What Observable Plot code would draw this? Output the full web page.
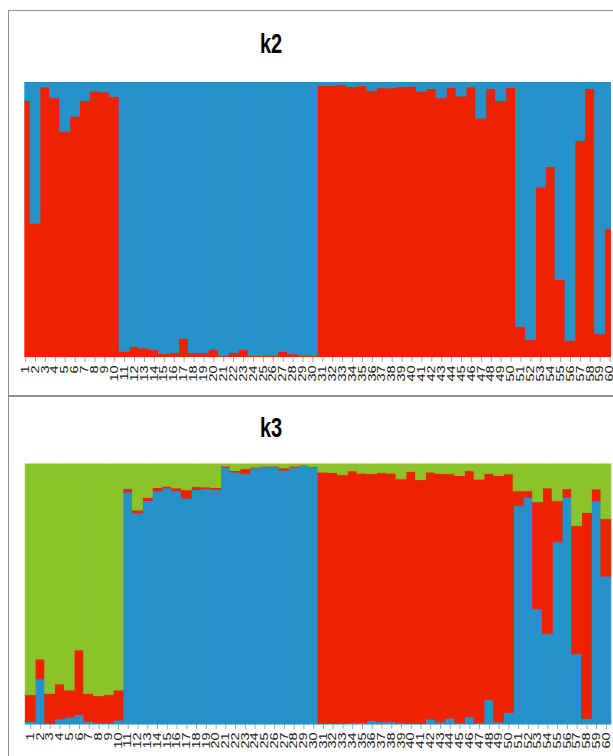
<!DOCTYPE html>
<html><head><meta charset="utf-8">
<script src="https://cdn.jsdelivr.net/npm/d3@7"></script>
<script src="https://cdn.jsdelivr.net/npm/@observablehq/plot@0.6"></script>
<style>
html,body{margin:0;padding:0;background:#fff;overflow:hidden}
#root{position:relative;width:613px;height:756px;overflow:hidden;background:#fff}
.panel{position:absolute;left:7.5px;width:700px;border:1.6px solid #8e8e8e;box-sizing:border-box}
.title{position:absolute;left:260px;font:bold 20px "Liberation Sans",Arial,sans-serif;line-height:20px;transform:scaleY(1.35);transform-origin:0 100%;color:#000;white-space:nowrap}
.chart{position:absolute;left:0}
</style></head>
<body>
<div id="root">
  <div class="panel" style="top:9.5px;height:386px"></div>
  <div class="panel" style="top:396px;height:420px"></div>
  <div class="title" style="top:37px">k2</div>
  <div class="title" style="top:421px">k3</div>
  <div class="chart" id="c2" style="top:82px"></div>
  <div class="chart" id="c3" style="top:464.3px"></div>
</div>
<script>
const individuals = [1,2,3,4,5,6,7,8,9,10,11,12,13,14,15,16,17,18,19,20,21,22,23,24,25,26,27,28,29,30,
  31,32,33,34,35,36,37,38,39,40,41,42,43,44,45,46,47,48,49,50,51,52,53,54,55,56,57,58,59,60];

const clusters = ["Cluster R", "Cluster B", "Cluster G"];
const clusterColors = ["#ee2200", "#2592c9", "#8cc22a"];

// K = 2 : membership proportions (red at bottom, blue on top)
const k2Red = [0.933,0.487,0.982,0.943,0.821,0.876,0.933,0.967,0.964,0.948,
  0.021,0.039,0.033,0.028,0.013,0.017,0.068,0.016,0.016,0.028,
  0.006,0.016,0.028,0.006,0.006,0.006,0.021,0.012,0.006,0.006,
  0.988,0.988,0.990,0.983,0.988,0.970,0.979,0.979,0.984,0.985,
  0.967,0.976,0.943,0.980,0.949,0.982,0.869,0.976,0.933,0.980,
  0.112,0.063,0.618,0.693,0.283,0.061,0.787,0.976,0.085,0.467];
const k2Blue = [0.067,0.513,0.018,0.057,0.179,0.124,0.067,0.033,0.036,0.052,
  0.979,0.961,0.967,0.972,0.987,0.983,0.932,0.984,0.984,0.972,
  0.994,0.984,0.972,0.994,0.994,0.994,0.979,0.988,0.994,0.994,
  0.012,0.012,0.010,0.017,0.012,0.030,0.021,0.021,0.016,0.015,
  0.033,0.024,0.057,0.020,0.051,0.018,0.131,0.024,0.067,0.020,
  0.888,0.937,0.382,0.307,0.717,0.939,0.213,0.024,0.915,0.533];

// K = 3 : membership proportions (blue bottom, red middle, green top)
const k3Blue = [0.010,0.174,0.003,0.020,0.027,0.037,0.010,0.005,0.005,0.015,
  0.892,0.812,0.860,0.897,0.908,0.897,0.869,0.902,0.905,0.902,
  0.988,0.969,0.963,0.985,0.990,0.990,0.977,0.988,0.994,0.988,
  0.003,0.003,0.003,0.006,0.006,0.014,0.009,0.009,0.005,0.003,
  0.002,0.019,0.008,0.023,0.005,0.028,0.005,0.093,0.008,0.045,
  0.840,0.873,0.443,0.347,0.701,0.873,0.270,0.022,0.859,0.569];
const k3Red = [0.103,0.076,0.115,0.134,0.104,0.248,0.108,0.104,0.108,0.116,
  0.013,0.011,0.012,0.013,0.007,0.011,0.032,0.011,0.007,0.008,
  0.004,0.006,0.019,0.003,0.002,0.002,0.008,0.004,0.002,0.002,
  0.966,0.965,0.956,0.968,0.959,0.949,0.959,0.956,0.938,0.969,
  0.938,0.950,0.956,0.940,0.951,0.946,0.937,0.871,0.948,0.917,
  0.057,0.024,0.412,0.561,0.158,0.032,0.493,0.792,0.045,0.221];
const k3Green = [0.887,0.750,0.882,0.846,0.869,0.715,0.882,0.891,0.887,0.869,
  0.095,0.177,0.128,0.090,0.085,0.092,0.099,0.087,0.088,0.090,
  0.008,0.025,0.018,0.012,0.008,0.008,0.015,0.008,0.004,0.010,
  0.031,0.032,0.041,0.026,0.035,0.037,0.032,0.035,0.057,0.028,
  0.060,0.031,0.036,0.037,0.044,0.026,0.058,0.036,0.044,0.038,
  0.103,0.103,0.145,0.092,0.141,0.095,0.237,0.186,0.096,0.210];

function rows(series) {
  const out = [];
  for (const [cluster, values] of series)
    values.forEach((v, i) => out.push({ind: individuals[i], cluster, value: v}));
  return out;
}

function postProcess(svg) {
  svg.querySelectorAll('g[aria-label="x-axis tick"] path, g[aria-label="x-axis tick"] line, g[aria-label="x-axis tick"]').forEach(p => p.setAttribute("stroke", "#a6a6a6"));
  svg.querySelectorAll('g[aria-label="x-axis tick label"] text').forEach(t => {
    const tr = t.getAttribute("transform");
    if (tr) t.setAttribute("transform", tr + " scale(1.45,1)");
  });
}

function chart({data, height, marginBottom, marginLeft, range, clip}) {
  const svg = Plot.plot({
    width: 613, height, marginTop: 0, marginBottom, marginLeft, marginRight: 2,
    style: {background: "transparent", fontFamily: "'Liberation Sans', Arial, sans-serif", fontSize: "10px", color: "#1a1a1a", overflow: "visible"},
    x: {type: "band", domain: individuals, range, padding: 0, label: null, tickRotate: -90, tickSize: 5, tickPadding: 3},
    y: {domain: [0, 1], axis: null},
    color: {domain: clusters, range: clusterColors},
    marks: [
      Plot.barY(data, {x: "ind", y: "value", fill: "cluster", stroke: "cluster", strokeWidth: 1, clip})
    ]
  });
  postProcess(svg);
  return svg;
}

document.getElementById("c2").append(chart({
  data: rows([[clusters[0], k2Red], [clusters[1], k2Blue]]),
  height: 305, marginBottom: 30, marginLeft: 24.3, range: [20.1, 614.6], clip: true
}));
document.getElementById("c3").append(chart({
  data: rows([[clusters[1], k3Blue], [clusters[0], k3Red], [clusters[2], k3Green]]),
  height: 292, marginBottom: 32, marginLeft: 25, range: [25.3, 610.8], clip: false
}));
</script>
</body></html>
